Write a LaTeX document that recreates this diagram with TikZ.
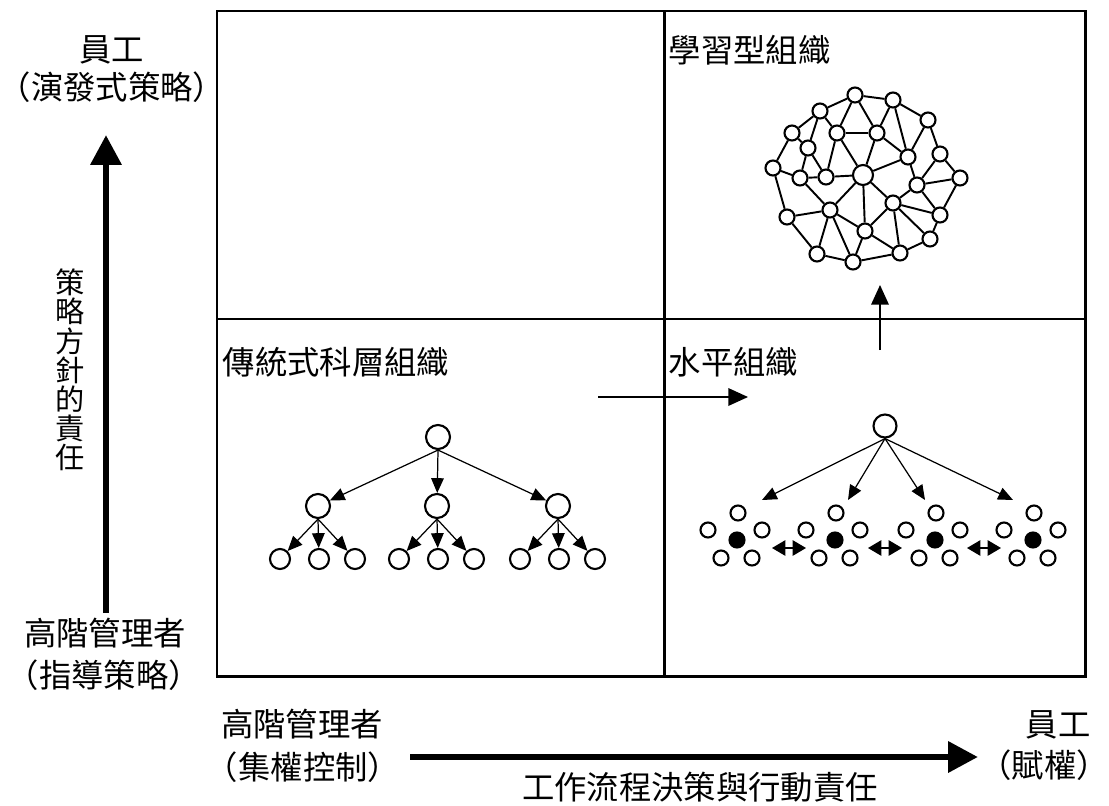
\documentclass[tikz,border=0pt]{standalone}
\usepackage{fontspec}
\newfontfamily\cjk{Noto Sans CJK TC}
\usepackage{tikz}
\usetikzlibrary{arrows.meta,positioning}

\newcommand\tightlines{\lineskiplimit=-10pt\relax}

\tikzset{
  txt/.style={font=\cjk\fontsize{9.2}{11}\selectfont, inner sep=0pt, align=center},
  unit/.style={circle, draw, fill=white, line width=0.6pt, inner sep=0pt, minimum size=#1},
  lead/.style={line width=0.35pt, -{Triangle[width=3.6pt,length=4.2pt]}},
  twin/.style={line width=0.35pt, {Triangle[width=4.4pt,length=3.8pt]}-{Triangle[width=4.4pt,length=3.8pt]}},
  move/.style={line width=0.45pt, -{Triangle[width=5pt,length=5.6pt]}},
  axis/.style={line width=1.9pt, -{Triangle[width=8.5pt,length=8.5pt]}},
  link/.style={line width=0.55pt}
}

\begin{document}
\begin{tikzpicture}[x=0.01cm, y=-0.01cm]
\useasboundingbox (0,0) rectangle (1109,806);

% quadrants
\draw[line width=0.85pt] (217,11) rectangle (1085,676);
\draw[line width=0.85pt] (664,11) -- (664,676) (217,319) -- (1085,319);

% vertical axis
\node[txt] (staffY) at (112,50) {員工};
\node[txt] (staffYsub) at (112,87) {（演發式策略）};
\node[txt, font=\cjk\fontsize{8.3}{8.3}\selectfont\tightlines] (yname) at (70,370) {策\\略\\方\\針\\的\\責\\任};
\node[txt] (mgrY) at (105,633) {高階管理者};
\node[txt] (mgrYsub) at (104,675) {（指導策略）};
\coordinate (ylow) at (106,613);
\coordinate (yhigh) at (106,135);
\draw[axis] (ylow) -- (yhigh);

% horizontal axis
\node[txt] (mgrX) at (302,724) {高階管理者};
\node[txt] (mgrXsub) at (303,767) {（集權控制）};
\node[txt] (staffX) at (1058,725) {員工};
\node[txt] (staffXsub) at (1044,765) {（賦權）};
\node[txt] (xname) at (700,787) {工作流程決策與行動責任};
\coordinate (xlow) at (410,757);
\coordinate (xhigh) at (978,757);
\draw[axis] (xlow) -- (xhigh);

% quadrant titles
\node[txt, anchor=west] (learn) at (668,50) {學習型組織};
\node[txt, anchor=west] (bureau) at (222,362) {傳統式科層組織};
\node[txt, anchor=west] (flat) at (668,362) {水平組織};

% moves between quadrants
\coordinate (goA) at (598,397);
\coordinate (goB) at (748,397);
\draw[move] (goA) -- (goB);
\coordinate (upA) at (880,350);
\coordinate (upB) at (880,285);
\draw[move] (upA) -- (upB);

% hierarchy
\node[unit=0.24cm] (top) at (438,437) {};
\foreach \i/\x in {1/318,2/437,3/558} {
  \node[unit=0.24cm] (mid\i) at (\x,506) {};
  \draw[lead] (top.south) -- (mid\i);
  \foreach \j/\dx in {1/-38,2/1,3/37} {
    \node[unit=0.2cm] (low\i\j) at (\x+\dx,559) {};
    \draw[lead] (mid\i.south) -- (low\i\j);
  }
}

% teams
\node[unit=0.23cm] (head) at (885,426) {};
\foreach \i/\x in {1/737,2/835,3/935,4/1033} {
  \node[unit=0.15cm, fill=black] (core\i) at (\x,540) {};
  \foreach \n/\dx/\dy in {a/1/-27,b/-29/-10,c/25/-10,d/-16/18,e/15/18}
    \node[unit=0.15cm] (core\i\n) at (\x+\dx,540+\dy) {};
}
\foreach \i/\x in {1/762,2/848,3/925,4/1013} {
  \coordinate (aim\i) at (\x,500);
  \draw[lead] (head.south) -- (aim\i);
}
\foreach \i/\x in {1/772,2/868,3/967} {
  \coordinate (l\i) at (\x,548);
  \coordinate (r\i) at (\x+34,548);
  \draw[twin] (l\i) -- (r\i);
}

% network
\foreach \n/\x/\y in {1/855/95,2/893/100,3/820/111,4/928/120,5/792/133,
    6/837/133,7/877/133,8/808/148,9/908/157,10/940/154,11/773/168,
    12/800/178,13/826/177,15/917/185,16/960/178,17/893/203,
    18/830/210,19/787/217,20/940/215,21/865/231,22/930/239,
    23/817/254,24/900/253,25/853/262}
  \node[unit=0.15cm] (n\n) at (\x,\y) {};
\node[unit=0.2cm] (n14) at (863,175) {};
\foreach \a/\b in {1/3,1/2,1/6,1/7,2/7,2/9,2/4,3/5,3/8,3/6,5/8,5/11,6/7,
    6/13,6/14,7/14,7/9,4/9,4/10,8/12,8/13,11/12,11/19,12/13,12/18,13/14,
    14/9,14/18,14/21,14/17,9/15,10/15,10/16,15/16,15/17,15/20,16/20,
    17/20,17/21,17/24,17/22,20/22,18/19,18/23,18/25,18/21,19/23,21/25,
    21/24,23/25,25/24,24/22}
  \draw[link] (n\a) -- (n\b);
\end{tikzpicture}
\end{document}
